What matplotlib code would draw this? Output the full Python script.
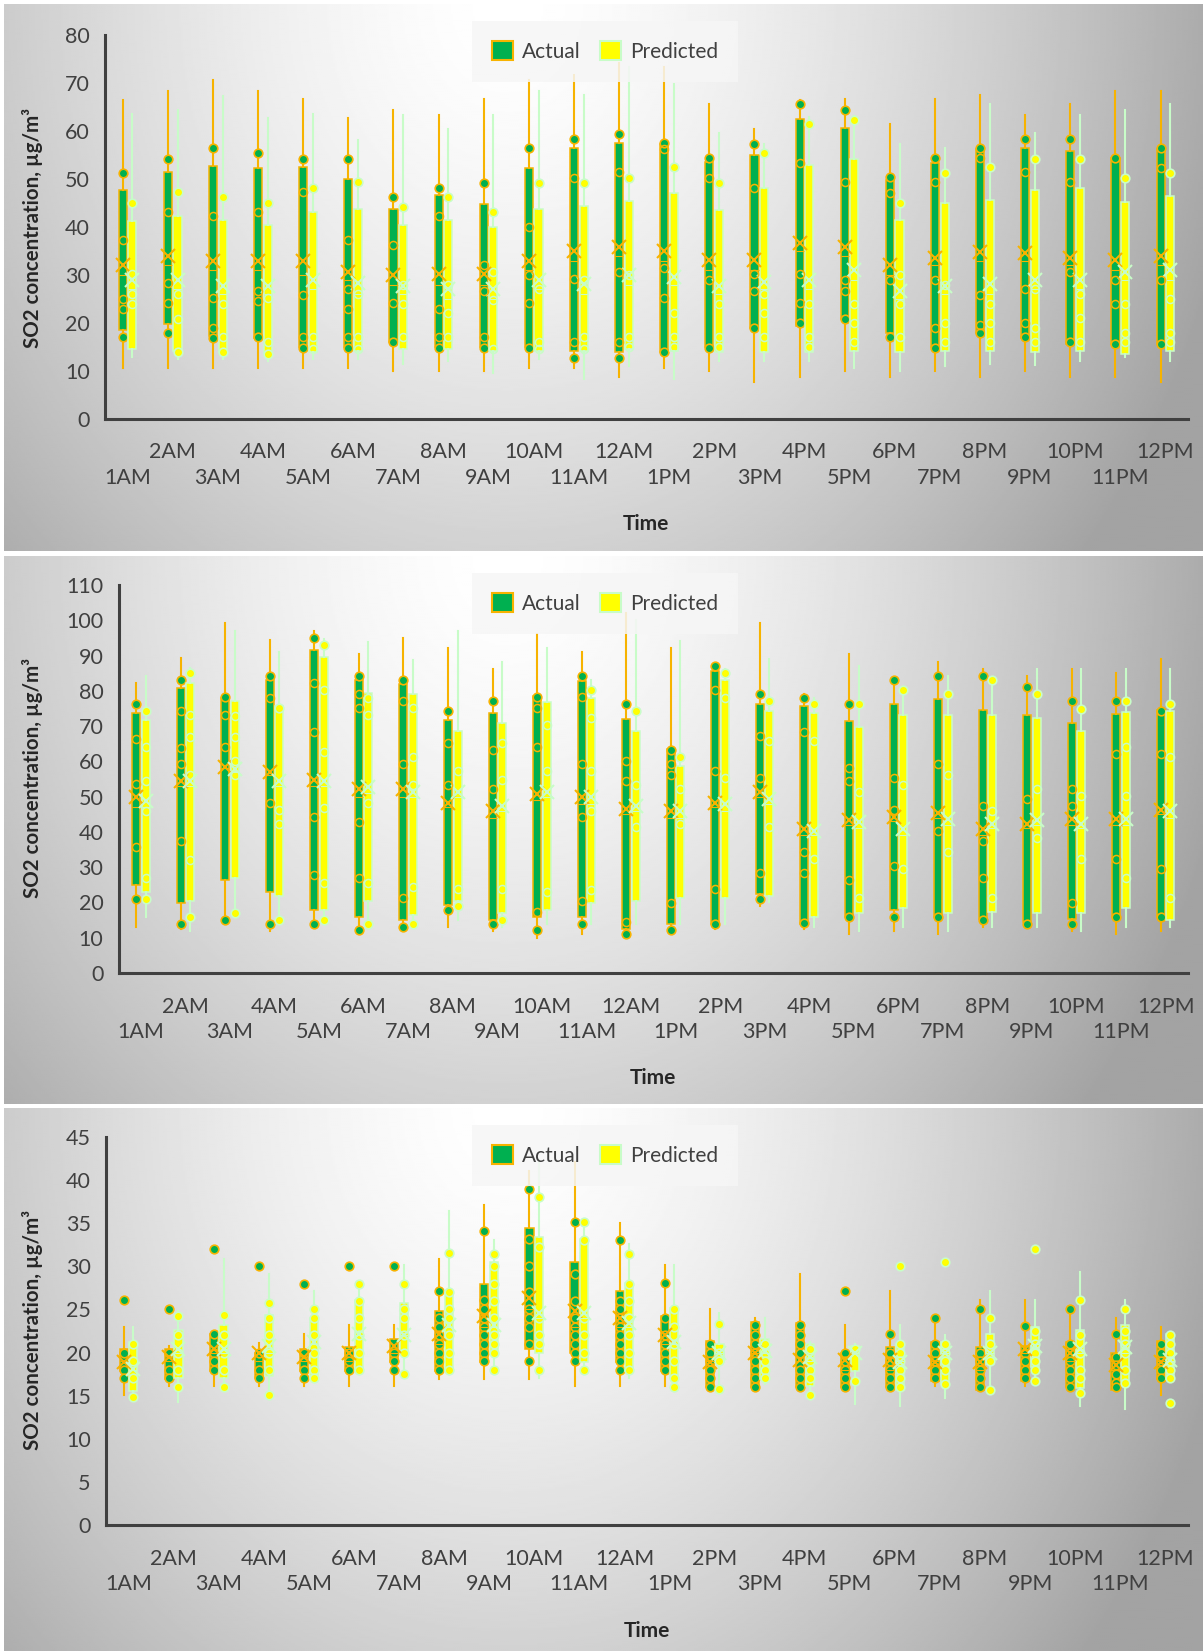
import numpy as np
import matplotlib
matplotlib.use("Agg")
import matplotlib.pyplot as plt
from matplotlib.patches import Patch

plt.rcParams['font.family'] = ['Lato', 'DejaVu Sans']

HOURS = ["1AM", "2AM", "3AM", "4AM", "5AM", "6AM", "7AM", "8AM", "9AM", "10AM", "11AM", "12AM",
         "1PM", "2PM", "3PM", "4PM", "5PM", "6PM", "7PM", "8PM", "9PM", "10PM", "11PM", "12PM"]

# ---------------- Panel 1 ----------------
P1_ACT_HI = [66.5, 68.3, 70.6, 68.4, 66.6, 62.7, 64.4, 63.4, 66.6, 70.6, 71.7, 74.1, 73.4, 65.6, 60.5, 66.5, 66.6, 61.5, 66.6, 67.4, 63.4, 65.6, 68.3, 68.3]
P1_ACT_Q3 = [47.8, 51.5, 52.8, 52.2, 52.6, 50.0, 43.7, 46.6, 44.7, 52.2, 56.4, 57.5, 57.3, 53.5, 54.9, 62.5, 60.6, 49.7, 53.3, 56.2, 56.4, 55.9, 54.4, 56.2]
P1_ACT_MED = [30, 32, 31, 31, 30, 29, 28, 28, 28, 31, 33, 34, 33, 31, 31, 35, 34, 30, 32, 33, 33, 32, 31, 32]
P1_ACT_Q1 = [18.6, 19.7, 17.2, 16.8, 15.0, 15.0, 16.1, 15.0, 15.0, 15.0, 14.2, 13.9, 13.9, 15.0, 19.0, 19.4, 20.8, 17.9, 15.0, 17.9, 16.8, 15.7, 15.7, 15.7]
P1_ACT_LO = [10.7, 10.7, 10.7, 10.6, 10.6, 10.6, 10.0, 10.0, 10.0, 10.6, 10.6, 8.8, 10.7, 9.9, 7.7, 8.8, 9.9, 8.8, 9.9, 8.8, 9.9, 8.8, 8.8, 7.8]
P1_ACT_MEAN = [32.1, 34.0, 32.9, 32.9, 32.9, 30.7, 29.9, 30.3, 30.3, 32.9, 34.9, 35.8, 35.1, 33.2, 33.2, 36.7, 35.8, 32.1, 33.6, 34.7, 34.6, 33.6, 33.2, 34.0]
P1_ACT_DOTS = [[51.3, 17.0], [54.2, 18.0], [56.4, 16.9], [55.4, 17.0], [54.2, 14.8], [54.2, 14.8], [46.2, 16.1], [48.2, 14.8],
               [49.2, 14.8], [56.4, 14.8], [58.3, 12.8], [59.3, 12.8], [57.5, 13.9], [54.3, 14.8], [57.3, 19.0], [65.6, 20.1],
               [64.4, 20.8], [50.4, 17.0], [54.3, 14.8], [56.5, 18.0], [58.3, 17.0], [58.3, 16.1], [54.4, 15.7], [56.5, 15.7]]
P1_ACT_RINGS = [[37.3, 25.0, 23.0], [43.1, 28.3, 24.1], [42.2, 25.2, 19.0], [43.1, 24.5, 26.7], [47.3, 25.9, 17.0],
                [37.3, 27.0, 23.0, 17.0], [36.2, 24.1], [42.2, 23.0, 17.0], [32.1, 26.7, 17.0], [40.0, 30.0, 24.1],
                [50.2, 29.1, 16.1], [51.5, 30.7, 16.0], [56.2, 31.4, 25.2], [50.2, 28.9], [48.1, 30.3, 26.7],
                [53.3, 30.3, 24.1], [49.3, 28.9, 26.7], [47.1, 28.9], [49.3, 28.9, 19.0], [54.4, 25.9, 19.5],
                [51.5, 27.0, 20.0], [49.3, 30.7], [29.0, 24.0], [52.2, 28.9]]

P1_PRE_HI = [63.5, 64.3, 67.2, 62.7, 63.5, 58.2, 63.4, 60.4, 63.4, 68.4, 67.4, 73.4, 69.8, 59.5, 57.3, 63.0, 63.2, 57.3, 56.5, 65.6, 59.5, 63.3, 64.4, 65.6]
P1_PRE_Q3 = [41.3, 42.2, 41.5, 40.5, 43.1, 43.8, 40.5, 41.5, 40.0, 43.8, 44.3, 45.5, 47.1, 43.5, 48.1, 53.0, 54.1, 41.5, 45.1, 45.7, 47.8, 48.2, 45.3, 46.4]
P1_PRE_MED = [27, 27, 26, 26, 27, 26, 26, 25, 25, 27, 26, 28, 28, 26, 27, 27, 29, 25, 26, 26, 27, 27, 29, 29]
P1_PRE_Q1 = [14.6, 14.2, 13.9, 13.5, 13.9, 14.2, 14.6, 14.6, 14.2, 14.2, 14.2, 14.6, 14.2, 13.9, 13.9, 13.9, 14.2, 13.9, 14.2, 14.2, 13.9, 14.2, 13.5, 14.2]
P1_PRE_LO = [13.0, 12.5, 12.5, 12.0, 12.5, 12.5, 11.5, 12.0, 9.5, 12.5, 8.4, 11.0, 8.4, 12.0, 12.0, 12.0, 10.6, 9.9, 11.0, 11.5, 11.3, 12.0, 13.0, 12.0]
P1_PRE_MEAN = [28.9, 28.9, 27.8, 27.8, 28.9, 28.3, 27.8, 27.0, 27.0, 28.9, 28.1, 29.9, 29.6, 27.8, 28.5, 28.9, 31.0, 26.7, 27.8, 28.1, 28.9, 28.9, 30.7, 31.0]
P1_PRE_DOTS = [[45.1], [47.3, 14.0], [46.2, 14.0], [45.1, 13.5], [48.2], [49.3], [44.2], [46.2], [43.1], [49.2], [49.2], [50.2],
               [52.4], [49.2], [55.4], [61.5], [62.3], [45.1], [51.3], [52.4], [54.2], [54.2], [50.2], [51.3]]
P1_PRE_RINGS = [[30.3, 26.0, 24.0], [26.0, 20.8], [24.0, 17.0], [25.2, 16.0], [17.0, 14.5], [26.0, 17.0, 14.5], [28.0, 24.0, 17.0],
                [28.0, 22.0, 17.0], [30.7, 24.8, 14.5], [27.0, 16.0, 14.5], [29.0, 17.0, 14.5], [30.0, 17.0, 15.0],
                [22.0, 17.0, 15.0], [24.0, 17.0, 15.0], [26.0, 22.0, 17.0], [24.0, 17.0, 15.0], [24.0, 20.0, 16.0],
                [30.0, 24.0, 17.0], [28.0, 20.0, 16.0], [24.0, 20.0, 16.0], [27.0, 19.0, 16.0], [26.0, 21.0, 16.0],
                [24.0, 18.0, 16.0], [25.0, 18.0, 16.0]]

# ---------------- Panel 2 ----------------
P2_ACT_HI = [82.3, 89.3, 99.1, 94.3, 97.1, 90.4, 95.1, 92.1, 86.3, 96.1, 91.1, 102.2, 92.1, 87.6, 99.1, 79.1, 90.4, 82.1, 88.1, 86.3, 84.1, 86.1, 85.1, 89.1]
P2_ACT_Q3 = [73.7, 80.8, 78.1, 83.1, 91.6, 83.1, 81.8, 71.7, 73.7, 78.6, 82.9, 71.9, 63.4, 85.6, 76.2, 75.7, 71.4, 76.2, 77.7, 74.7, 73.2, 70.9, 73.4, 74.7]
P2_ACT_MED = [47, 53, 58, 56, 53, 50, 50, 47, 44, 49, 48, 45, 44, 47, 50, 39, 42, 43, 44, 39, 41, 42, 42, 45]
P2_ACT_Q1 = [24.9, 19.9, 26.4, 22.9, 17.9, 15.9, 14.9, 19.4, 14.9, 15.9, 15.9, 12.4, 13.9, 13.9, 22.4, 13.9, 15.9, 17.9, 15.9, 15.4, 14.4, 15.4, 15.9, 15.9]
P2_ACT_LO = [12.9, 12.4, 14.0, 11.9, 13.0, 11.4, 12.0, 12.9, 11.9, 10.0, 11.0, 10.5, 11.5, 12.5, 18.9, 12.4, 11.0, 11.9, 11.0, 12.9, 13.4, 11.9, 11.0, 11.9]
P2_ACT_MEAN = [49.8, 54.3, 58.4, 56.9, 54.8, 52.3, 52.3, 48.3, 45.8, 50.8, 49.8, 46.6, 45.8, 48.3, 51.3, 40.8, 43.3, 44.3, 45.3, 40.8, 42.3, 43.8, 43.8, 46.3]
P2_ACT_DOTS = [[76.2, 21.1], [83.1, 13.9], [78.3, 14.9], [84.1, 13.9], [95.1, 13.9], [84.1, 12.1], [83.1, 12.9], [74.2, 17.9],
               [77.2, 13.9], [78.3, 12.1], [84.1, 13.9], [76.2, 11.0], [63.2, 12.1], [87.1, 13.9], [79.1, 21.1], [78.1, 14.2],
               [76.2, 15.9], [83.1, 15.9], [84.1, 15.9], [84.1, 14.9], [81.1, 13.9], [77.2, 13.9], [77.2, 15.9], [74.2, 15.9]]
P2_ACT_RINGS = [[66.2, 53.5, 35.8], [74.2, 63.9, 59.2, 37.3], [73.2, 64.2], [78.1, 48.3], [82.1, 68.2, 44.3, 27.9],
                [79.1, 75.2, 42.8, 26.9], [77.2, 59.2, 21.4], [65.2, 53.3], [63.2, 52.3], [75.2, 64.2, 17.4],
                [78.3, 59.2, 44.3, 20.4], [60.2, 54.3, 14.4], [59.2, 56.2, 19.9], [80.1, 57.2, 23.9], [67.2, 55.3, 28.4],
                [68.2, 34.3, 28.4], [58.2, 54.3, 26.4], [55.3, 46.3, 30.4], [59.2, 40.3], [47.3, 37.3, 26.9], [49.3],
                [52.3, 47.3, 19.9], [62.2, 32.4], [62.2, 29.4]]

P2_PRE_HI = [84.1, 86.6, 97.1, 91.1, 94.6, 93.8, 88.6, 96.9, 88.3, 92.1, 83.1, 100.0, 94.1, 86.1, 89.1, 78.1, 87.1, 81.1, 84.1, 83.6, 86.1, 86.1, 86.1, 86.1]
P2_PRE_Q3 = [71.7, 82.1, 77.2, 75.7, 89.6, 79.3, 79.1, 68.7, 70.9, 76.9, 78.1, 68.7, 58.7, 83.1, 74.2, 73.7, 69.7, 73.2, 73.2, 73.2, 72.2, 68.7, 74.0, 74.2]
P2_PRE_MED = [47, 53, 57, 53, 53, 51, 50, 50, 46, 50, 48, 46, 44, 46, 48, 39, 41, 39, 42, 41, 42, 41, 42, 44]
P2_PRE_Q1 = [22.9, 20.4, 26.9, 21.9, 17.9, 20.4, 16.4, 20.4, 16.9, 17.9, 19.9, 20.4, 21.4, 21.4, 21.9, 15.9, 16.9, 18.4, 16.9, 17.4, 16.9, 16.9, 18.4, 14.9]
P2_PRE_LO = [15.9, 11.9, 16.0, 14.0, 14.0, 13.0, 13.0, 15.0, 13.0, 14.0, 14.0, 14.0, 14.0, 14.0, 20.0, 13.0, 12.0, 13.0, 12.0, 13.0, 13.0, 12.0, 13.0, 13.0]
P2_PRE_MEAN = [48.8, 54.3, 57.7, 54.3, 54.3, 52.8, 51.3, 51.3, 47.3, 51.3, 49.8, 47.3, 45.8, 47.8, 49.3, 40.3, 42.8, 40.8, 43.8, 42.3, 43.3, 42.3, 43.8, 45.8]
P2_PRE_DOTS = [[74.2, 21.1], [85.1, 15.9], [17.1], [75.2, 14.9], [93.1, 14.9], [13.9], [13.9], [18.9], [14.9], [], [80.1], [74.2],
               [61.2], [85.1], [77.2], [76.2], [76.2], [80.1], [79.1], [83.1], [79.1], [74.9], [77.2], [76.2]]
P2_PRE_RINGS = [[64.2, 54.3, 45.8, 26.9], [73.2, 66.9, 56.2, 31.9], [73.0, 67.0, 60.0, 56.0], [46.3, 42.3], [80.1, 62.7, 46.8, 25.4],
                [78.1, 73.2, 48.3, 25.4], [75.2, 61.2, 53.3, 24.4], [57.2, 23.9], [65.2, 54.8, 23.9], [70.2, 57.2, 22.9],
                [72.2, 57.2, 45.8, 23.4], [53.3, 41.3], [52.3, 42.3], [78.1, 55.3], [65.7, 41.3], [65.7, 32.4], [51.3, 21.4],
                [53.3, 29.4], [56.2, 34.3], [45.8, 21.4], [52.3, 38.3], [50.3, 32.4], [64.2, 50.3, 26.9], [61.2, 21.4]]

# ---------------- Panel 3 ----------------
P3_ACT_HI = [23.0, 20.8, 22.3, 21.1, 22.1, 23.2, 23.2, 30.9, 37.1, 41.1, 42.1, 35.0, 30.1, 25.0, 24.0, 29.1, 23.2, 27.1, 24.0, 26.1, 26.1, 25.0, 24.0, 23.0]
P3_ACT_Q3 = [20.4, 20.4, 22.2, 20.0, 20.4, 20.6, 21.6, 24.8, 28.0, 34.5, 30.5, 27.1, 24.2, 21.3, 23.5, 23.4, 20.0, 20.6, 21.2, 20.6, 20.8, 21.2, 20.0, 21.3]
P3_ACT_MED = [19, 19, 20, 19, 19, 19, 20, 21, 23, 25, 23, 23, 21, 19, 20, 19, 18, 18, 19, 18, 20, 19, 18, 19]
P3_ACT_Q1 = [17.9, 16.9, 17.9, 17.1, 17.9, 17.9, 18.9, 17.9, 18.9, 20.4, 20.0, 18.9, 17.9, 16.0, 16.0, 16.0, 16.0, 16.0, 16.7, 15.7, 16.7, 16.0, 15.7, 16.9]
P3_ACT_LO = [15.1, 16.1, 16.1, 16.1, 16.1, 16.1, 16.1, 16.9, 16.9, 16.9, 16.1, 16.1, 16.1, 16.0, 16.0, 16.0, 16.0, 16.0, 16.1, 15.7, 16.1, 16.0, 15.7, 15.1]
P3_ACT_MEAN = [18.9, 19.5, 20.4, 20.0, 19.5, 20.0, 20.8, 22.2, 24.2, 26.3, 24.8, 24.0, 22.0, 18.9, 20.0, 19.1, 19.1, 19.1, 18.9, 18.9, 20.4, 20.0, 18.5, 18.9]
P3_ACT_DOTS = [[26.1, 20, 18, 17], [25, 20, 18, 17], [32, 22.2, 20, 19, 18], [30, 20, 18, 17], [28, 20, 18, 17], [30, 20, 19, 18],
               [30, 20, 19, 18], [27.1, 24, 23, 22, 21, 20, 19, 18], [34.1, 26.1, 25, 24, 23, 22, 21, 20, 19],
               [39, 33.2, 30, 27, 25, 24, 23, 21, 19], [35.1, 29.1, 26, 24, 23, 22, 21, 20, 19],
               [33.1, 26, 25, 24, 23, 22, 21, 20, 19, 18], [28.1, 24, 22, 21, 20, 19, 18], [21, 20, 19, 18, 17, 16],
               [23.2, 22, 21, 20, 19, 18, 17, 16], [23.2, 22, 21, 20, 18, 17, 16], [27.1, 20, 19, 18, 17, 16],
               [22.1, 20, 19, 18, 17, 16], [24, 21, 20, 19, 18, 17], [25, 20, 19, 18, 17, 16], [23.1, 20, 19, 18, 17],
               [25, 21, 20, 19, 18, 17, 16], [22.1, 19.5, 18.5, 17.5, 16.5, 16], [21, 20, 19, 18, 17]]

P3_PRE_HI = [23.0, 24.8, 30.9, 29.1, 27.1, 28.1, 30.1, 36.4, 33.0, 42.3, 35.0, 32.6, 30.1, 24.6, 24.0, 21.2, 21.0, 23.2, 22.0, 27.1, 26.1, 29.3, 26.1, 22.4]
P3_PRE_Q3 = [21.2, 22.6, 23.2, 24.4, 24.0, 26.1, 25.7, 27.1, 30.5, 33.4, 33.2, 28.1, 25.2, 21.0, 21.6, 21.0, 20.8, 21.0, 21.2, 22.2, 23.0, 22.6, 23.2, 22.2]
P3_PRE_MED = [18, 20, 20, 20, 21, 22, 22, 23, 23, 24, 24, 23, 21, 20, 20, 19, 20, 19, 20, 20, 21, 20, 20, 19]
P3_PRE_Q1 = [15.5, 17.1, 17.1, 17.3, 17.1, 17.9, 20.0, 17.9, 20.0, 20.0, 18.9, 17.9, 17.1, 18.9, 16.9, 16.1, 17.9, 15.7, 16.3, 18.7, 18.3, 15.9, 16.7, 16.9]
P3_PRE_LO = [14.7, 14.3, 16.0, 15.1, 16.8, 17.9, 17.5, 17.9, 17.9, 17.1, 18.0, 17.1, 16.1, 15.7, 16.3, 14.7, 14.0, 13.8, 14.7, 15.7, 16.7, 13.8, 13.4, 16.7]
P3_PRE_MEAN = [18.1, 20.4, 20.4, 20.8, 21.2, 22.2, 22.0, 23.2, 23.2, 24.6, 24.6, 23.4, 21.2, 20.0, 20.2, 19.5, 20.0, 18.9, 20.0, 20.0, 20.8, 20.4, 20.6, 19.1]
P3_PRE_DOTS = [[14.9, 21, 19, 17], [24.2, 16, 22, 20, 18], [24.3, 16, 22, 20, 18], [25.7, 15.1, 24, 22, 20, 18],
               [25, 24, 22, 20, 18, 17], [27.9, 26, 24, 22, 20, 18], [28, 17.5, 25, 24, 22, 20], [31.6, 27, 25, 24, 22, 20, 18],
               [31.4, 30, 28, 26, 24, 22, 21, 20, 18], [38, 32.2, 24, 22, 21, 18], [35.1, 33, 24, 22, 20, 18],
               [31.4, 28, 26, 24, 22, 20, 18], [25, 16, 23, 21, 19, 17], [23.3, 15.8, 20, 19], [21, 20, 19, 18, 17],
               [15.1, 20.4, 19, 18, 17], [20.4, 16.7], [30, 21, 20, 19, 18, 17, 16], [30.5, 21, 20, 19, 18, 16.3],
               [24, 15.7, 21, 19], [32, 16.7, 22.5, 21, 20, 19, 18], [26.1, 15.3, 22, 20, 18, 17], [25, 22.5, 21, 20, 18, 16.5],
               [14.1, 22, 21, 20, 19, 18, 17]]

Y_MAX = [80, 110, 45]
Y_STEP = [10, 10, 5]

# ---------------- styling / layout ----------------
W, H = 1203, 1651
ACT_FILL, ACT_EDGE = "#00B050", "#F7B300"
PRE_FILL, PRE_EDGE = "#FFFF00", "#C8FCC8"
TXT = "#404040"

PANELS = [
    dict(bg=(4, 4, 1203, 551), l=105, r=1188, t=35, b=419),
    dict(bg=(4, 556, 1203, 1104), l=118.6, r=1188, t=585, b=973),
    dict(bg=(4, 1108, 1203, 1651), l=106, r=1188, t=1137, b=1525),
]

DATA = [
    ((P1_ACT_LO, P1_ACT_Q1, P1_ACT_MED, P1_ACT_Q3, P1_ACT_HI, P1_ACT_MEAN, P1_ACT_DOTS, P1_ACT_RINGS),
     (P1_PRE_LO, P1_PRE_Q1, P1_PRE_MED, P1_PRE_Q3, P1_PRE_HI, P1_PRE_MEAN, P1_PRE_DOTS, P1_PRE_RINGS)),
    ((P2_ACT_LO, P2_ACT_Q1, P2_ACT_MED, P2_ACT_Q3, P2_ACT_HI, P2_ACT_MEAN, P2_ACT_DOTS, P2_ACT_RINGS),
     (P2_PRE_LO, P2_PRE_Q1, P2_PRE_MED, P2_PRE_Q3, P2_PRE_HI, P2_PRE_MEAN, P2_PRE_DOTS, P2_PRE_RINGS)),
    ((P3_ACT_LO, P3_ACT_Q1, P3_ACT_MED, P3_ACT_Q3, P3_ACT_HI, P3_ACT_MEAN, P3_ACT_DOTS, None),
     (P3_PRE_LO, P3_PRE_Q1, P3_PRE_MED, P3_PRE_Q3, P3_PRE_HI, P3_PRE_MEAN, P3_PRE_DOTS, None)),
]


def frect(l, t, r, b):
    return [l / W, 1 - b / H, (r - l) / W, (b - t) / H]


fig = plt.figure(figsize=(W / 100, H / 100), dpi=100)
fig.patch.set_facecolor("white")

# radial grey background
gy, gx = np.mgrid[0:1:300j, 0:1:600j]
dist = np.sqrt(((gx - 0.42) / 0.62) ** 2 + (gy / 1.6) ** 2)
grad = 1 - 0.36 * np.clip(dist, 0, 1) ** 1.5

WIDTH = 0.18
OFF = 0.107

for p, (lay, (act, pre)) in enumerate(zip(PANELS, DATA)):
    bl, bt, br, bb = lay["bg"]
    bgax = fig.add_axes(frect(bl, bt, br, bb), zorder=0)
    bgax.imshow(grad, cmap="gray", vmin=0, vmax=1, aspect="auto", extent=(0, 1, 1, 0), interpolation="bilinear")
    bgax.set_axis_off()

    ax = fig.add_axes(frect(lay["l"], lay["t"], lay["r"], lay["b"]), zorder=2)
    ax.set_facecolor("none")
    n = len(HOURS)
    x = np.arange(n)

    for series, off, fill, edge in ((act, -OFF, ACT_FILL, ACT_EDGE), (pre, OFF, PRE_FILL, PRE_EDGE)):
        lo, q1, med, q3, hi, mean, dots, rings = series
        stats = [dict(whislo=lo[i], q1=q1[i], med=med[i], q3=q3[i], whishi=hi[i], mean=mean[i],
                      fliers=np.array(dots[i], dtype=float)) for i in range(n)]
        ax.bxp(stats, positions=x + off, widths=WIDTH, patch_artist=True, showmeans=True,
               showcaps=False, manage_ticks=False,
               boxprops=dict(facecolor=fill, edgecolor=edge, linewidth=1.1),
               whiskerprops=dict(color=edge, linewidth=1.5),
               medianprops=dict(color=edge, linewidth=0.8),
               meanprops=dict(marker="x", markeredgecolor=edge, markersize=9.5, markeredgewidth=1.5),
               flierprops=dict(marker="o", markerfacecolor=fill, markeredgecolor=edge, markersize=6.2,
                               markeredgewidth=1.2))
        if rings is not None:
            for i in range(n):
                ax.plot(np.full(len(rings[i]), x[i] + off), rings[i], "o", mfc="none", mec=edge,
                        ms=5.8, mew=1.1, zorder=3)

    ax.set_xlim(-0.5, n - 0.5)
    ax.set_ylim(0, Y_MAX[p])
    ax.set_yticks(np.arange(0, Y_MAX[p] + 0.1, Y_STEP[p]))
    ax.tick_params(axis="y", length=0, pad=11, labelsize=15.5, labelcolor=TXT)
    ax.set_xticks([])
    for s in ("top", "right"):
        ax.spines[s].set_visible(False)
    for s in ("left", "bottom"):
        ax.spines[s].set_color(TXT)
        ax.spines[s].set_linewidth(2.2)

    # staggered category labels
    hpx = lay["b"] - lay["t"]
    for i, lab in enumerate(HOURS):
        dy = 59 if i % 2 == 0 else 33.5
        ax.text(x[i], -dy / hpx, lab, transform=ax.get_xaxis_transform(), ha="center", va="center",
                fontsize=15.5, color=TXT)

    # axis titles
    fig.text(lay["l"] / W + (646 - 105) / W if p != 1 else 653 / W,
             1 - (lay["b"] + 105.5) / H, "Time", ha="center", va="center",
             fontsize=15, fontweight="bold", color="#262626")
    fig.text(32.5 / W, 1 - (lay["t"] + 193) / H, "SO2 concentration, \u00b5g/m\u00b3", rotation=90,
             ha="center", va="center", fontsize=14.8, fontweight="bold", color="#262626")

    # legend
    handles = [Patch(facecolor=ACT_FILL, edgecolor=ACT_EDGE, linewidth=1.5, label="Actual"),
               Patch(facecolor=PRE_FILL, edgecolor=PRE_EDGE, linewidth=1.5, label="Predicted")]
    leg = ax.legend(handles=handles, loc="center", ncol=2, bbox_to_anchor=(605 / W, 1 - (bt + 47.5) / H),
                    bbox_transform=fig.transFigure, frameon=True, fancybox=False, fontsize=15,
                    handlelength=1.0, handleheight=1.0, handletextpad=0.45, columnspacing=0.9,
                    borderpad=0.95, borderaxespad=0)
    leg.get_frame().set_facecolor("#f6f6f6")
    leg.get_frame().set_edgecolor("none")
    leg.get_frame().set_alpha(0.85)
    for t in leg.get_texts():
        t.set_color(TXT)

fig.savefig("out.png", dpi=100)
